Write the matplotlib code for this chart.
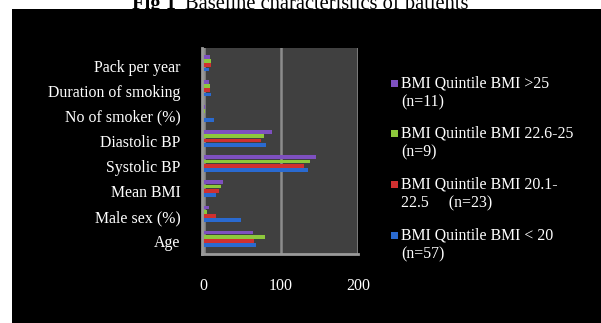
import matplotlib.pyplot as plt
from matplotlib.patches import Rectangle

plt.rcParams['font.family'] = ['Liberation Serif', 'DejaVu Serif']

# characteristics, bottom to top
merkmale = ["Age", "Male sex (%)", "Mean BMI", "Systolic BP", "Diastolic BP",
            "No of smoker (%)", "Duration of smoking", "Pack per year"]

bmi_unter_20 = [68, 48, 16, 135, 81, 13, 10, 7]
bmi_20_22 = [65, 16, 20, 130, 75, 1, 8, 10]
bmi_22_25 = [80, 5, 22, 138, 78, 2, 9, 10]
bmi_ueber_25 = [64, 7, 25, 145, 89, 2, 7, 8]

serien = [bmi_unter_20, bmi_20_22, bmi_22_25, bmi_ueber_25]
namen = ["BMI Quintile BMI < 20\n(n=57)",
         "BMI Quintile BMI 20.1-\n22.5     (n=23)",
         "BMI Quintile BMI 22.6-25\n(n=9)",
         "BMI Quintile BMI >25\n(n=11)"]
farben = ["#2a6ad0", "#d03030", "#8dc83c", "#7e50c0"]
x_ticks = [0, 100, 200]

W, H = 601, 323
fs = 11.4
fig = plt.figure(figsize=(W / 100, H / 100), dpi=100, facecolor="white")

# black background panel, title sits above it and is partly hidden
fig.patches.append(Rectangle((12 / W, 0), 1, 1 - 9 / H, transform=fig.transFigure,
                             facecolor="black", edgecolor="none", zorder=1))
titel = fig.text(132 / W, 1 - 9 / H, "Fig 1", fontsize=14.8, fontweight="bold",
                 va="baseline", ha="left", zorder=0)
fig.text(185 / W, 1 - 9 / H, "Baseline characteristics of patients", fontsize=14.8,
         va="baseline", ha="left", zorder=0)

ax = fig.add_axes([202 / W, 1 - 254 / H, 156 / W, 206 / H])
ax.set_facecolor("#404040")
ax.set_zorder(2)

hoehe = 0.15
schritt = 0.17
for i, (werte, farbe) in enumerate(zip(serien, farben)):
    pos = [k + (i - 1.5) * schritt for k in range(len(merkmale))]
    ax.barh(pos, werte, height=hoehe, color=farbe, zorder=3)

ax.set_xlim(-2, 200)
ax.set_ylim(-0.6, 7.6)
ax.set_yticks([k - 0.1 for k in range(len(merkmale))])
ax.set_yticklabels(merkmale, color="white", fontsize=fs)
ax.set_xticks(x_ticks)
ax.set_xticklabels([str(t) for t in x_ticks], color="white", fontsize=fs)
ax.tick_params(length=0)
ax.tick_params(axis="x", pad=17)
ax.tick_params(axis="y", pad=15.5)
for t in x_ticks:
    ax.axvline(t, color="#8c8c8c", lw=1.8, zorder=2)

for s in ["top", "right"]:
    ax.spines[s].set_visible(False)
ax.spines["left"].set_color("#9a9a9a")
ax.spines["bottom"].set_color("#9a9a9a")
ax.spines["left"].set_linewidth(2)
ax.spines["bottom"].set_linewidth(2)

# legend, top entry first
for j, i in enumerate(reversed(range(len(serien)))):
    y = 1 - (83 + j * 50.7) / H
    fig.patches.append(Rectangle((391 / W, y - 3.5 / H), 7 / W, 7 / H,
                                 transform=fig.transFigure, facecolor=farben[i],
                                 edgecolor="none", zorder=2))
    for z, zeile in enumerate(namen[i].split("\n")):
        fig.text(401 / W, y - z * 19 / H, zeile, color="white", fontsize=fs,
                 va="center", ha="left", zorder=3)

fig.savefig("out.png", dpi=100, facecolor="white")
